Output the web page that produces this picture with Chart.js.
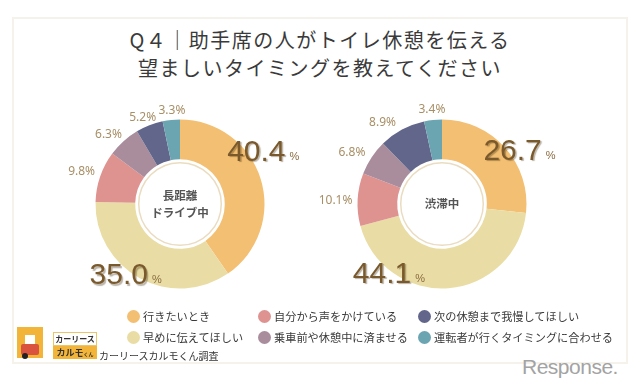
<!DOCTYPE html>
<html lang="ja">
<head>
	<meta charset="UTF-8">
	<title>Q4 トイレ休憩</title>
	<script src="https://cdn.jsdelivr.net/npm/chart.js@4.4.0/dist/chart.umd.min.js"></script>
	<style>
		body { margin: 0; background: #fff; font-family: "Noto Sans CJK JP", "Noto Sans", sans-serif; }
		#wrap { position: relative; width: 640px; height: 384px; overflow: hidden; }
		#frame { position: absolute; left: 12px; top: 17px; width: 612px; height: 343px; border: 2px solid #F5F2EC; }
		#title { position: absolute; left: 0; top: 26px; width: 640px; text-align: center; font-size: 20px; line-height: 28px; color: #3a3a3a; letter-spacing: 1.5px; }
		canvas { position: absolute; }
		#legend { position: absolute; left: 0; top: 0; }
		.item { position: absolute; font-size: 11.2px; color: #3a3a3a; white-space: nowrap; line-height: 14px; }
		.dot { position: absolute; width: 13px; height: 13px; border-radius: 50%; }
		#logo { position: absolute; left: 17px; top: 327px; }
		.src { position: absolute; left: 99px; top: 348px; font-size: 10px; color: #333; }
		#resp { position: absolute; left: 522px; top: 355px; font-family: "Liberation Sans", sans-serif; font-size: 21px; color: #a3a3a3; letter-spacing: -0.5px; }
	</style>
</head>
<body>
<div id="wrap">
	<div id="frame"></div>
	<div id="title">Q４｜助手席の人がトイレ休憩を伝える<br>望ましいタイミングを教えてください</div>

	<canvas id="chart-long" width="280" height="280" style="left:39.5px; top:63.5px;"></canvas>
	<canvas id="chart-jam" width="280" height="280" style="left:302px; top:63.5px;"></canvas>

	<div id="legend"></div>

	<!-- logo -->
	<div id="logo">
		<div style="position:absolute; left:0; top:0; width:26px; height:31px; background:#F2B53A;"></div>
		<div style="position:absolute; left:8px; top:8px; width:10px; height:10px; background:#fff;"></div>
		<div style="position:absolute; left:4px; top:17px; width:18px; height:11px; background:#D9533E; border-radius:2px;"></div>
		<div style="position:absolute; left:5px; top:26px; width:6px; height:6px; background:#222; border-radius:50%;"></div>
		<div style="position:absolute; left:36px; top:5px; width:42px; height:12px; border:1px solid #E9C66A; background:#fff; font-size:8px; font-weight:bold; line-height:12px; text-align:center; color:#333;">カーリース</div>
		<div style="position:absolute; left:36px; top:19px; width:44px; height:13px; background:#F2B53A; font-size:9px; font-weight:bold; line-height:13px; text-align:center; color:#333;">カルモ<span style="font-size:5px;">くん</span></div>
	</div>
	<div class="src">カーリースカルモくん調査</div>
	<div id="resp">Response.</div>
</div>

<script>
	// data
	const categories = [
		'行きたいとき',
		'早めに伝えてほしい',
		'自分から声をかけている',
		'乗車前や休憩中に済ませる',
		'次の休憩まで我慢してほしい',
		'運転者が行くタイミングに合わせる'
	];
	const longDrive = [40.4, 35.0, 9.8, 6.3, 5.2, 3.3];
	const trafficJam = [26.7, 44.1, 10.1, 6.8, 8.9, 3.4];
	const centerLong = ['長距離', 'ドライブ中'];
	const centerJam = ['渋滞中'];

	const colors = ['#F3BF72', '#E9DDA5', '#DE9391', '#A98D9C', '#61668A', '#6CA5B2'];

	// label nudges [angle deg, radius offset]
	const nudgeLong = [[-18, 9], [13, 8], [-1, 19], [-4, 15], [-2, 10], [1, 9]];
	const nudgeJam = [[4, 5], [46, 6], [-1, 22], [-4, 19], [-8, 16], [0, 10]];

	// legend (html)
	var legendPos = [[133, 316], [264, 316], [424, 316], [133, 337], [264, 337], [424, 337]];
	var order = [0, 2, 4, 1, 3, 5];
	var lg = document.getElementById('legend');
	order.forEach(function (c, i) {
		var dot = document.createElement('div');
		dot.className = 'dot';
		dot.style.left = (legendPos[i][0] - 6.5) + 'px';
		dot.style.top = (legendPos[i][1] - 6.5) + 'px';
		dot.style.background = colors[c];
		lg.appendChild(dot);
		var d = document.createElement('div');
		d.className = 'item';
		d.style.left = (legendPos[i][0] + 10) + 'px';
		d.style.top = (legendPos[i][1] - 7.5) + 'px';
		d.textContent = categories[c];
		lg.appendChild(d);
	});

	const labelPlugin = {
		id: 'labels',
		afterDatasetsDraw(chart, args, opts) {
			const ctx = chart.ctx;
			const meta = chart.getDatasetMeta(0);
			const values = chart.data.datasets[0].data;
			const first = meta.data[0];
			const cx = first.x, cy = first.y;

			// inner ring + center text
			ctx.save();
			ctx.beginPath();
			ctx.arc(cx, cy, first.innerRadius - 3.5, 0, Math.PI * 2);
			ctx.strokeStyle = '#EADCC0';
			ctx.lineWidth = 1.5;
			ctx.stroke();
			ctx.fillStyle = '#555';
			ctx.font = 'bold 11.5px "Noto Sans CJK JP"';
			ctx.textAlign = 'center';
			ctx.textBaseline = 'middle';
			const lines = opts.center;
			lines.forEach(function (t, i) {
				ctx.fillText(t, cx, cy + (i - (lines.length - 1) / 2) * 17);
			});
			ctx.restore();

			meta.data.forEach(function (arc, i) {
				const nd = opts.nudge[i];
				const a = (arc.startAngle + arc.endAngle) / 2 + nd[0] * Math.PI / 180;
				const r = arc.outerRadius + nd[1];
				const x = cx + Math.cos(a) * r;
				const y = cy + Math.sin(a) * r;
				const txt = values[i].toFixed(1);
				ctx.save();
				ctx.textBaseline = 'alphabetic';
				if (i < 2) {
					ctx.font = '30px "Liberation Sans Narrow", "Liberation Sans"';
					const w = ctx.measureText(txt).width;
					ctx.shadowColor = 'rgba(60,40,10,0.35)';
					ctx.shadowOffsetX = 1.5;
					ctx.shadowOffsetY = 1.5;
					ctx.shadowBlur = 1;
					ctx.fillStyle = '#7A5A2C';
					ctx.textAlign = 'left';
					ctx.fillText(txt, x - w / 2, y + 11);
					ctx.shadowColor = 'transparent';
					ctx.font = '11px "Liberation Sans"';
					ctx.fillStyle = '#8A6C40';
					ctx.fillText('%', x + w / 2 + 4, y + 10);
				} else {
					ctx.font = '12px "Noto Sans"';
					ctx.fillStyle = '#A88F66';
					ctx.textAlign = 'center';
					ctx.textBaseline = 'middle';
					ctx.fillText(txt + '%', x, y);
				}
				ctx.restore();
			});
		}
	};

	function makeChart(id, values, center, nudge) {
		new Chart(document.getElementById(id), {
			type: 'doughnut',
			data: {
				labels: categories,
				datasets: [{
					data: values,
					backgroundColor: colors,
					borderWidth: 0
				}]
			},
			options: {
				responsive: false,
				animation: false,
				cutout: '53%',
				layout: { padding: 55.5 },
				plugins: {
					legend: { display: false },
					tooltip: { enabled: false },
					labels: { center: center, nudge: nudge }
				}
			},
			plugins: [labelPlugin]
		});
	}

	makeChart('chart-long', longDrive, centerLong, nudgeLong);
	makeChart('chart-jam', trafficJam, centerJam, nudgeJam);
</script>
</body>
</html>
